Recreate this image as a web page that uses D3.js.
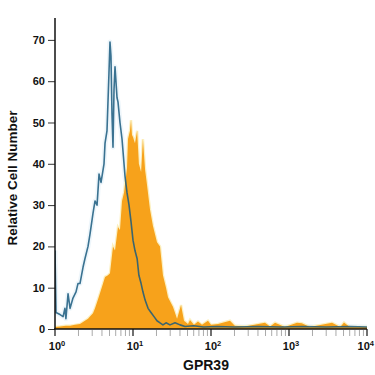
<!DOCTYPE html>
<html lang="en">
<head>
  <meta charset="UTF-8" />
  <title>GPR39</title>
  <style>
    body { margin: 0; background: #fff; }
    text { font-family: "Liberation Sans", Arial, sans-serif; font-weight: bold; fill: #111; }
    .narrow { font-family: "Liberation Sans Narrow", "Arial Narrow", "Liberation Sans", sans-serif; }
  </style>
  <script src="https://d3js.org/d3.v7.min.js"></script>
</head>
<body>
  <div id="chart"></div>
  <script>
    // isotype control (blue outline)
    var controlX = [1.00, 1.03, 1.16, 1.27, 1.34, 1.38, 1.47, 1.56, 1.70, 1.86, 1.97, 2.09, 2.29, 2.42,
      2.65, 2.81, 3.07, 3.26, 3.46, 3.67, 3.89, 4.01, 4.25, 4.38, 4.64, 4.92, 5.07, 5.22, 5.38, 5.54,
      5.71, 5.88, 6.24, 6.42, 6.81, 7.23, 7.67, 7.90, 8.38, 8.89, 9.43, 10.0, 10.6, 11.3, 11.9, 12.7,
      13.4, 14.3, 15.6, 17.0, 18.6, 20.3, 22.2, 24.2, 26.5, 29.8, 34.6, 40.1, 46.4, 60, 80, 120, 200,
      400, 800, 1500, 3000, 6000, 10000];
    var controlY = [19, 4, 3.5, 3, 5, 2.5, 8.5, 5, 7.5, 9, 11, 11, 15, 17,
      20, 23, 28, 31, 30, 37.5, 35.5, 37, 40, 45, 48, 62, 69.5, 66, 52, 44,
      58, 63.5, 56, 55, 50, 46, 40, 37, 33, 30, 26, 21.5, 19, 17, 13, 11,
      9, 7, 5, 4, 3, 2, 1.5, 1, 1.5, 1, 1.5, 1, 0.6, 0.8, 0.5, 0.6, 0.5,
      0.6, 0.5, 0.6, 0.5, 0.6, 0.5];

    // GPR39 stained (orange filled)
    var stainX = [1.00, 1.16, 1.38, 1.56, 1.80, 2.09, 2.42, 2.65, 2.81, 3.07, 3.26, 3.46, 3.78, 4.13,
      4.38, 4.78, 5.07, 5.54, 5.88, 6.42, 6.81, 7.23, 7.67, 7.90, 8.38, 8.63, 9.15, 9.43, 9.71, 10.0,
      10.6, 11.3, 11.9, 12.7, 13.4, 14.3, 15.1, 16.5, 18.0, 20.3, 22.2, 24.2, 26.5, 28.1, 32.6, 36.7,
      41.3, 45.1, 50.7, 53.8, 60.5, 68.1, 76.7, 91.5, 100, 123, 175, 202, 272, 492, 573, 662, 886,
      1266, 1460, 1850, 3557, 4550, 5070, 6000, 10000];
    var stainY = [0.5, 0.6, 0.8, 0.8, 1.0, 1.2, 2, 2.5, 3, 3.8, 5, 6.5, 8.7, 11,
      12.6, 13, 13.5, 20, 19, 24.7, 24, 31, 33, 35, 39, 46, 48, 50.6, 47, 46.5,
      45, 48, 40, 38, 46, 38.5, 35, 29, 25, 21, 20, 13, 10, 7.7, 5.3, 2.5,
      5.8, 2, 1.2, 2.2, 1.0, 1.8, 1.0, 2.0, 1, 1.2, 2, 0.8, 0.6, 1.5, 0.6, 1.5, 0.5,
      1.5, 1.4, 0.5, 1.5, 0.5, 1.6, 0.5, 0.5];

    var yTicks = [0, 10, 20, 30, 40, 50, 60, 70];
    var decades = [1, 10, 100, 1000, 10000];
    var decadeExp = ["0", "1", "2", "3", "4"];

    var w = 375;
    var h = 375;

    var x = d3.scaleLog().domain([1, 10000]).range([55, 367]);
    var y = d3.scaleLinear().domain([0, 75.3]).range([329, 18]);

    var control = controlX.map(function(d, i) { return [d, controlY[i]]; });
    var stain = stainX.map(function(d, i) { return [d, stainY[i]]; });

    var svg = d3.select("#chart").append("svg")
      .attr("width", w)
      .attr("height", h);

    svg.append("clipPath").attr("id", "plot")
      .append("rect")
      .attr("x", 55).attr("y", 18)
      .attr("width", 312).attr("height", 311);

    var g = svg.append("g").attr("clip-path", "url(#plot)");

    var area = d3.area()
      .x(function(d) { return x(d[0]); })
      .y0(y(0))
      .y1(function(d) { return y(d[1]); });

    var line = d3.line()
      .x(function(d) { return x(d[0]); })
      .y(function(d) { return y(d[1]); });

    // soft halos like the scanned original
    g.append("path").datum(control)
      .attr("d", line)
      .attr("fill", "none")
      .attr("stroke", "#eef6fb")
      .attr("stroke-width", 5)
      .attr("stroke-linejoin", "round");

    g.append("path").datum(stain)
      .attr("d", area)
      .attr("fill", "#f7a21b")
      .attr("stroke", "#fcf0c0")
      .attr("stroke-width", 2.5);

    g.append("path").datum(stain)
      .attr("d", area)
      .attr("fill", "#f7a21b");

    g.append("path").datum(control)
      .attr("d", line)
      .attr("fill", "none")
      .attr("stroke", "#1a5a7e")
      .attr("stroke-opacity", 0.85)
      .attr("stroke-width", 1.6)
      .attr("stroke-linejoin", "round");

    // y axis
    var yAxis = svg.append("g")
      .attr("transform", "translate(55,0)")
      .call(d3.axisLeft(y).tickValues(yTicks).tickSize(7).tickPadding(3));
    yAxis.select(".domain").remove();
    yAxis.selectAll("line").attr("stroke", "#333");
    yAxis.selectAll("text")
      .style("font-size", "11px")
      .style("font-family", "Liberation Sans, Arial, sans-serif")
      .style("font-weight", "bold")
      .attr("fill", "#111");

    svg.append("line")
      .attr("x1", 55).attr("x2", 55)
      .attr("y1", 18).attr("y2", 329)
      .attr("stroke", "#111").attr("stroke-width", 1.5);

    // x axis: minor ticks grey, decades black
    var minor = [];
    decades.slice(0, 4).forEach(function(dd) {
      for (var k = 2; k < 10; k++) minor.push(dd * k);
    });

    svg.selectAll("line.minor")
      .data(minor)
      .enter()
      .append("line")
      .attr("class", "minor")
      .attr("x1", function(d) { return x(d); })
      .attr("x2", function(d) { return x(d); })
      .attr("y1", 330)
      .attr("y2", 336)
      .attr("stroke", "#aaa")
      .attr("stroke-width", 1);

    svg.selectAll("line.major")
      .data(decades)
      .enter()
      .append("line")
      .attr("class", "major")
      .attr("x1", function(d) { return x(d); })
      .attr("x2", function(d) { return x(d); })
      .attr("y1", 329)
      .attr("y2", 336)
      .attr("stroke", "#111")
      .attr("stroke-width", 1.2);

    svg.append("line")
      .attr("x1", 54).attr("x2", 367)
      .attr("y1", 329).attr("y2", 329)
      .attr("stroke", "#111").attr("stroke-width", 1.5);

    var xl = svg.selectAll("text.xt")
      .data(decades)
      .enter()
      .append("text")
      .attr("class", "xt")
      .attr("x", function(d, i) { return i === 4 ? 374 : x(d) + 2; })
      .attr("y", 350)
      .attr("text-anchor", function(d, i) { return i === 4 ? "end" : "middle"; })
      .style("font-size", "11px");
    xl.append("tspan").text("10");
    xl.append("tspan")
      .text(function(d, i) { return decadeExp[i]; })
      .attr("dy", -4)
      .style("font-size", "7.5px");

    svg.append("text")
      .attr("class", "narrow")
      .attr("x", 206)
      .attr("y", 370)
      .attr("text-anchor", "middle")
      .style("font-size", "14px")
      .text("GPR39");

    svg.append("text")
      .attr("class", "narrow")
      .attr("transform", "translate(17,178) rotate(-90)")
      .attr("text-anchor", "middle")
      .style("font-size", "13.5px")
      .text("Relative Cell Number");
  </script>
</body>
</html>
